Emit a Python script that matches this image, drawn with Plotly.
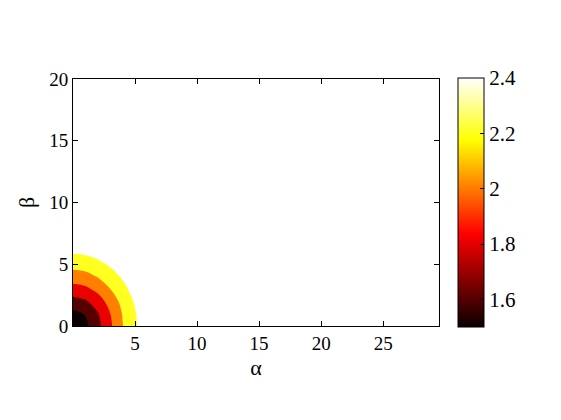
import plotly.graph_objects as go

# grid of the (alpha, beta) samples and the value read at each point
alpha = [0, 1, 2, 3, 4, 5, 6, 7, 29.5]
beta = [0, 1, 2, 3, 4, 5, 6, 7, 8, 20]
z_vals = [
    [1.5, 1.548, 1.742, 1.965, 2.193, 2.372, 2.549, 2.6, 2.6],
    [1.546, 1.613, 1.784, 1.998, 2.212, 2.385, 2.56, 2.6, 2.6],
    [1.727, 1.774, 1.904, 2.082, 2.262, 2.425, 2.6, 2.6, 2.6],
    [1.92, 1.957, 2.057, 2.199, 2.337, 2.487, 2.6, 2.6, 2.6],
    [2.109, 2.136, 2.212, 2.309, 2.43, 2.6, 2.6, 2.6, 2.6],
    [2.274, 2.293, 2.346, 2.43, 2.6, 2.6, 2.6, 2.6, 2.6],
    [2.422, 2.438, 2.484, 2.6, 2.6, 2.6, 2.6, 2.6, 2.6],
    [2.6, 2.6, 2.6, 2.6, 2.6, 2.6, 2.6, 2.6, 2.6],
    [2.6, 2.6, 2.6, 2.6, 2.6, 2.6, 2.6, 2.6, 2.6],
    [2.6, 2.6, 2.6, 2.6, 2.6, 2.6, 2.6, 2.6, 2.6],
]

x_ticks = [5, 10, 15, 20, 25]
y_ticks = [0, 5, 10, 15, 20]
cbar_ticks = [1.6, 1.8, 2.0, 2.2, 2.4]
cbar_labels = ["1.6", "1.8", "2", "2.2", "2.4"]

# matlab "hot" colormap
hot = [[0, "rgb(11,0,0)"], [0.375, "rgb(255,0,0)"],
       [0.75, "rgb(255,255,0)"], [1, "rgb(255,255,255)"]]

# one colour per filled band (bands below 1.6, 1.6-1.8, ... above 2.4)
band_colors = [[0, "#0b0000"], [0.2, "#550000"], [0.4, "#ea0000"],
               [0.6, "#ff8000"], [0.8, "#ffff20"], [1, "#ffffff"]]

FONT = "Liberation Serif, Times New Roman, serif"

fig = go.Figure()

fig.add_trace(go.Contour(
    x=alpha,
    y=beta,
    z=z_vals,
    contours=dict(start=1.6, end=2.4, size=0.2, coloring="fill", showlines=False),
    line=dict(width=0),
    colorscale=band_colors,
    showscale=False,
    hoverinfo="skip"
))

# colorbar only
fig.add_trace(go.Scatter(
    x=[None],
    y=[None],
    mode="markers",
    showlegend=False,
    marker=dict(
        color=[1.5],
        colorscale=hot,
        cmin=1.5,
        cmax=2.4,
        showscale=True,
        colorbar=dict(
            x=1.052,
            xanchor="left",
            xpad=0,
            y=0.5,
            yanchor="middle",
            ypad=0,
            lenmode="pixels",
            len=249,
            thickness=26,
            outlinewidth=1,
            outlinecolor="black",
            ticks="inside",
            ticklen=4,
            tickcolor="black",
            tickvals=cbar_ticks,
            ticktext=cbar_labels,
            tickfont=dict(family=FONT, size=21, color="black")
        )
    )
))

axis_style = dict(
    automargin=False,
    showgrid=False,
    zeroline=False,
    showline=True,
    linecolor="black",
    linewidth=1,
    mirror="ticks",
    ticks="inside",
    ticklen=5,
    tickcolor="black",
    tickfont=dict(family=FONT, size=19, color="black")
)

# the page adds an 8px body margin, so the figure is 8px smaller each way
fig.update_layout(
    width=553,
    height=412,
    margin=dict(l=65, r=122, t=71, b=94),
    plot_bgcolor="white",
    paper_bgcolor="white",
    font=dict(family=FONT, color="black", size=19),
    xaxis=dict(axis_style, range=[0, 29.5], tickvals=x_ticks,
               title=dict(text="α", font=dict(size=22), standoff=6)),
    yaxis=dict(axis_style, range=[0, 20], tickvals=y_ticks,
               title=dict(text="β", font=dict(size=22), standoff=8)),
    showlegend=False
)

fig.write_html("out.html")
